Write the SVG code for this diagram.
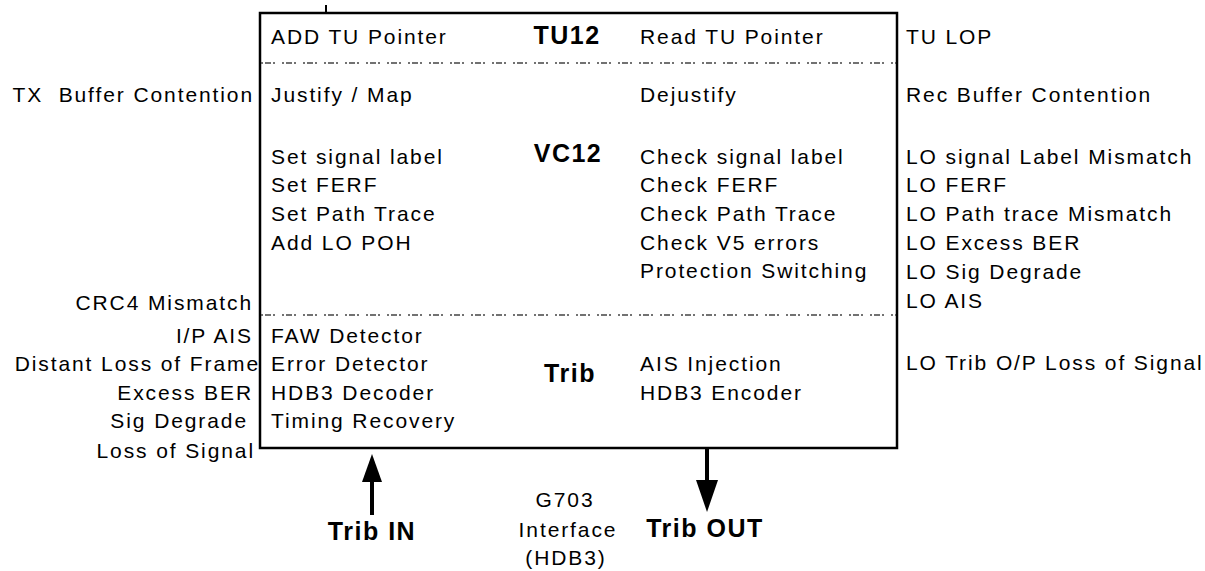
<svg xmlns="http://www.w3.org/2000/svg" width="1205" height="571" viewBox="0 0 1205 571">
<style>
  .t { font-family: "Liberation Sans", Arial, sans-serif; font-size: 21px; letter-spacing: 1.9px; fill: #000; }
  .e { text-anchor: end; }
  .m { text-anchor: middle; }
  .b { font-family: "Liberation Sans", Arial, sans-serif; font-size: 25px; font-weight: bold; letter-spacing: 1.5px; fill: #000; }
  .box { fill: #fff; stroke: #000; stroke-width: 2.5; }
  .dash { stroke: #444; stroke-width: 1.3; stroke-dasharray: 2 2 6 2 2 7; fill: none; }
  .ln { stroke: #000; stroke-width: 4; fill: none; }
</style>
<rect width="1205" height="571" fill="#fff"/>

<g id="main-box">
  <rect class="box" x="260" y="13" width="637" height="435"/>
  <line x1="326" y1="5" x2="326" y2="13" stroke="#000" stroke-width="2"/>
  <line class="dash" x1="261" y1="63" x2="896" y2="63"/>
  <line class="dash" x1="261" y1="315" x2="896" y2="315"/>
</g>

<g id="tu12">
  <text class="t" x="271" y="44">ADD TU Pointer</text>
  <text class="b m" x="567" y="44">TU12</text>
  <text class="t" x="640" y="44">Read TU Pointer</text>
</g>

<g id="vc12">
  <text class="t" x="271" y="102">Justify / Map</text>
  <text class="t" x="640" y="102">Dejustify</text>
  <text class="b m" x="568" y="162">VC12</text>
  <text class="t" x="271" y="164">Set signal label</text>
  <text class="t" x="271" y="192">Set FERF</text>
  <text class="t" x="271" y="221">Set Path Trace</text>
  <text class="t" x="271" y="250">Add LO POH</text>
  <text class="t" x="640" y="164">Check signal label</text>
  <text class="t" x="640" y="192">Check FERF</text>
  <text class="t" x="640" y="221">Check Path Trace</text>
  <text class="t" x="640" y="250">Check V5 errors</text>
  <text class="t" x="640" y="278">Protection Switching</text>
</g>

<g id="trib">
  <text class="t" x="271" y="343">FAW Detector</text>
  <text class="t" x="271" y="371">Error Detector</text>
  <text class="t" x="271" y="400">HDB3 Decoder</text>
  <text class="t" x="271" y="428">Timing Recovery</text>
  <text class="b m" x="570" y="382">Trib</text>
  <text class="t" x="640" y="371">AIS Injection</text>
  <text class="t" x="640" y="400">HDB3 Encoder</text>
</g>

<g id="left-alarms">
  <text class="t e" x="254" y="102" style="white-space:pre">TX  Buffer Contention</text>
  <text class="t e" x="253" y="310">CRC4 Mismatch</text>
  <text class="t e" x="253" y="343">I/P AIS</text>
  <text class="t e" x="260" y="371">Distant Loss of Frame</text>
  <text class="t e" x="253" y="400">Excess BER</text>
  <text class="t e" x="248" y="428">Sig Degrade</text>
  <text class="t e" x="255" y="458">Loss of Signal</text>
</g>

<g id="right-alarms">
  <text class="t" x="906" y="44">TU LOP</text>
  <text class="t" x="906" y="102">Rec Buffer Contention</text>
  <text class="t" x="906" y="164">LO signal Label Mismatch</text>
  <text class="t" x="906" y="192">LO FERF</text>
  <text class="t" x="906" y="221">LO Path trace Mismatch</text>
  <text class="t" x="906" y="250">LO Excess BER</text>
  <text class="t" x="906" y="279">LO Sig Degrade</text>
  <text class="t" x="906" y="308">LO AIS</text>
  <text class="t" x="906" y="370">LO Trib O/P Loss of Signal</text>
</g>

<g id="interface">
  <text class="t m" x="565" y="507">G703</text>
  <text class="t m" x="568" y="537">Interface</text>
  <text class="t m" x="566" y="565">(HDB3)</text>
</g>

<g id="trib-in">
  <text class="b m" x="372" y="540">Trib IN</text>
</g>

<g id="trib-out">
  <text class="b m" x="705" y="537">Trib OUT</text>
</g>

<g id="connectors">
  <line class="ln" x1="372" y1="515" x2="372" y2="478"/>
  <polygon points="372,454 382,482 362,482" fill="#000"/>
  <line class="ln" x1="707" y1="448" x2="707" y2="484"/>
  <polygon points="707,512 696,480 718,480" fill="#000"/>
</g>
</svg>
